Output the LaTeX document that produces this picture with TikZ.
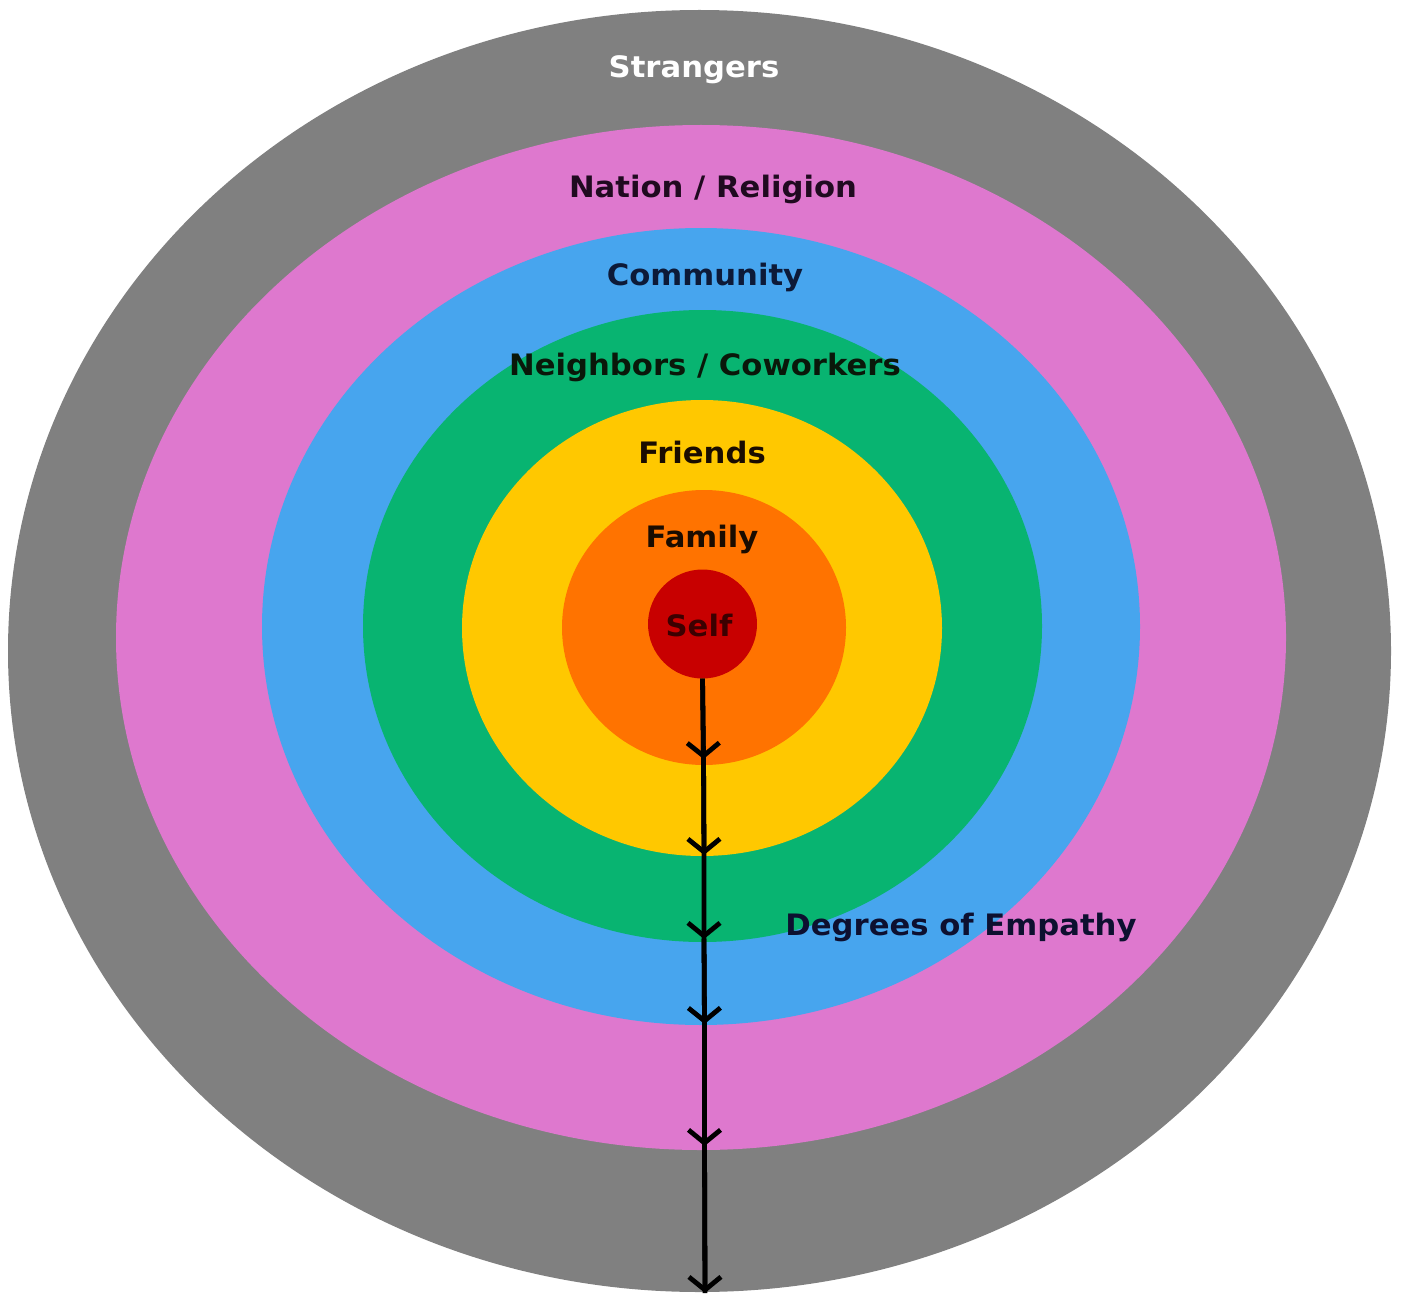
\documentclass[tikz,border=0pt]{standalone}
\usepackage{fontspec}
\setmainfont{DejaVu Sans}[FakeStretch=1.04]
\usetikzlibrary{arrows.meta}
\definecolor{cgray}{HTML}{808080}
\definecolor{cpink}{HTML}{DE78CE}
\definecolor{cblue}{HTML}{47A5EE}
\definecolor{cgreen}{HTML}{08B471}
\definecolor{cyellow}{HTML}{FFC800}
\definecolor{corange}{HTML}{FF7300}
\definecolor{cred}{HTML}{C80000}
\definecolor{tpink}{HTML}{200A20}
\definecolor{tblue}{HTML}{0D1A38}
\definecolor{tgreen}{HTML}{0A180A}
\definecolor{tdark}{HTML}{1A0C00}
\definecolor{tself}{HTML}{3C0000}
\definecolor{tdeg}{HTML}{0D1030}
\tikzset{
  lbl/.style={font=\bfseries\fontsize{29.5}{32}\selectfont, inner sep=0pt, anchor=center},
  shaft/.style={line width=4.8pt, black},
  arr/.style={line width=4.8pt, black, -{Straight Barb[length=13pt,width=32pt]}},
}
\begin{document}
\begin{tikzpicture}[x=1pt,y=-1pt]
\useasboundingbox (0,0) rectangle (1402,1297);
\fill[white] (0,0) rectangle (1402,1297);
\fill[cgray]   (699.5,651) ellipse [x radius=691.5, y radius=641];
\fill[cpink]   (701,637.5) ellipse [x radius=585, y radius=512.5];
\fill[cblue]   (701,626.5) ellipse [x radius=439, y radius=398.5];
\fill[cgreen]  (702.5,626) ellipse [x radius=339.5, y radius=316];
\fill[cyellow] (702,628) ellipse [x radius=240, y radius=228];
\fill[corange] (704,627.5) ellipse [x radius=142, y radius=137.5];
\node[circle, fill=cred, minimum size=109pt, inner sep=0pt] (self) at (702.5,624) {};
\node[lbl, text=tself] (selflbl) at (699,625) {Self};
\node[lbl, text=white] (strangers) at (694,70) {Strangers};
\node[lbl, text=tpink] (nation) at (713,189) {Nation / Religion};
\node[lbl, text=tblue] (community) at (705,277) {Community};
\node[lbl, text=tgreen] (neighbors) at (705,367) {Neighbors / Coworkers};
\node[lbl, text=tdark] (friends) at (702,452) {Friends};
\node[lbl, text=tdark] (family) at (702,539) {Family};
\node[lbl, text=tdeg] (degrees) at (961,927) {Degrees of Empathy};
\coordinate (t1) at (703.5,759);
\coordinate (t2) at (704,855);
\coordinate (t3) at (704,939);
\coordinate (t4) at (704.5,1024);
\coordinate (t5) at (704.5,1146);
\coordinate (t6) at (705,1293);
\draw[shaft] (self.south) -- (t1) -- (t2) -- (t3) -- (t4) -- (t5) -- (t6);
\draw[arr] (self.south) -- (t1);
\draw[arr] (t1) -- (t2);
\draw[arr] (t2) -- (t3);
\draw[arr] (t3) -- (t4);
\draw[arr] (t4) -- (t5);
\draw[arr] (t5) -- (t6);
\end{tikzpicture}
\end{document}
